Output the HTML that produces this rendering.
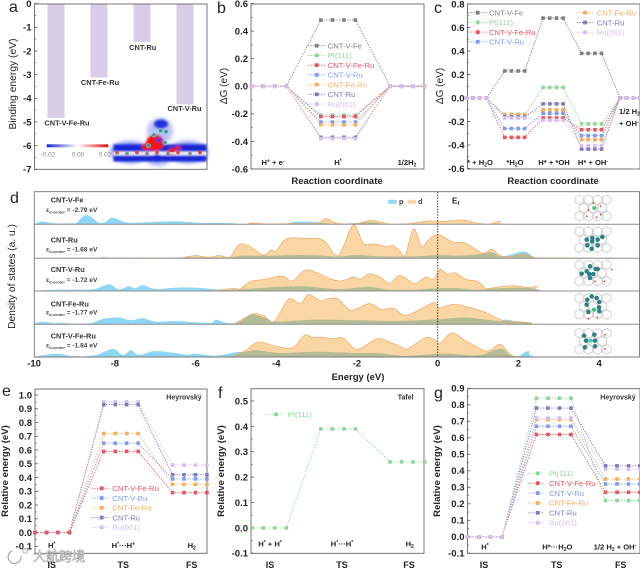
<!DOCTYPE html>
<html lang="en">
<head>
<meta charset="utf-8">
<title>Catalyst energy charts</title>
<style>
html,body{margin:0;padding:0;background:#fff;width:640px;height:568px;overflow:hidden}
svg{display:block;filter:blur(.3px);font-family:"Liberation Sans","Noto Sans CJK SC",sans-serif}
.pl{font-size:16px;fill:#222}
.tick{font-size:9.5px;font-weight:bold;fill:#222}
.title{font-size:9.5px;font-weight:bold;fill:#222}
.ytitle{font-size:9.6px;fill:#222;font-weight:bold;stroke:none}
.lab{font-size:7.4px;font-weight:bold;fill:#333}
.axlab{font-size:7.6px;fill:#222;font-weight:bold}
.leg{font-size:7.7px}
.cat{font-size:9px;font-weight:bold;fill:#222}
.rown{font-size:7.4px;font-weight:bold;fill:#333}
.eps{font-size:6.6px;fill:#444;font-weight:bold}
.cb{font-size:6.4px;fill:#888}
</style>
</head>
<body>
<svg id="fig" xmlns="http://www.w3.org/2000/svg" width="640" height="568" viewBox="0 0 640 568">
  <defs id="svg-defs">
    <linearGradient id="cbg" x1="0" x2="1" y1="0" y2="0">
      <stop offset="0" stop-color="#1424c8"/><stop offset=".5" stop-color="#fff"/><stop offset="1" stop-color="#e01010"/>
    </linearGradient>
    <filter id="soft" x="-20%" y="-20%" width="140%" height="140%"><feGaussianBlur stdDeviation="1.1"/></filter>
    <filter id="softer" x="-40%" y="-40%" width="180%" height="180%"><feGaussianBlur stdDeviation="2.2"/></filter>
    <clipPath id="clip-d"><rect x="34.3" y="192" width="606" height="166"/></clipPath>
  </defs>
  <g id="layer-d"></g>
  <g id="layer-a"></g>
  <g id="layer-b"></g>
  <g id="layer-c"></g>
  <g id="layer-e"></g>
  <g id="layer-f"></g>
  <g id="layer-g"></g>

  <!-- panel letters -->
  <text class="pl" x="9" y="12">a</text>
  <text class="pl" x="217" y="13">b</text>
  <text class="pl" x="434" y="13">c</text>
  <text class="pl" x="10" y="203">d</text>
  <text class="pl" x="2" y="396">e</text>
  <text class="pl" x="218" y="398">f</text>
  <text class="pl" x="434" y="398">g</text>

  <!-- axis titles -->
  <text class="ytitle" transform="translate(16,84) rotate(-90)" text-anchor="middle" style="font-weight:normal;font-size:10.3px">Binding energy (eV)</text>
  <text class="ytitle" transform="translate(227,86) rotate(-90)" text-anchor="middle" style="font-weight:normal;font-size:10px">ΔG (eV)</text>
  <text class="ytitle" transform="translate(443,86) rotate(-90)" text-anchor="middle" style="font-weight:normal;font-size:10px">ΔG (eV)</text>
  <text class="title" x="337" y="184" text-anchor="middle">Reaction coordinate</text>
  <text class="title" x="553" y="184" text-anchor="middle">Reaction coordinate</text>
  <text class="ytitle" transform="translate(15,276.5) rotate(-90)" text-anchor="middle" style="font-weight:normal;font-size:10.2px">Density of states (a. u.)</text>
  <text class="title" x="358" y="380" text-anchor="middle">Energy (eV)</text>
  <text class="ytitle" transform="translate(8,471) rotate(-90)" text-anchor="middle">Relative energy (eV)</text>
  <text class="ytitle" transform="translate(224,471) rotate(-90)" text-anchor="middle">Relative energy (eV)</text>
  <text class="ytitle" transform="translate(440,471) rotate(-90)" text-anchor="middle">Relative energy (eV)</text>

  <!-- panel a annotations -->
  <text class="lab" x="67" y="125.5" text-anchor="middle">CNT-V-Fe-Ru</text>
  <text class="lab" x="100" y="85" text-anchor="middle">CNT-Fe-Ru</text>
  <text class="lab" x="142.7" y="50" text-anchor="middle">CNT-Ru</text>
  <text class="lab" x="184.5" y="111" text-anchor="middle">CNT-V-Ru</text>
  <rect x="46.7" y="144.3" width="61.6" height="3" fill="url(#cbg)"/>
  <text class="cb" x="48" y="156.5" text-anchor="middle">-0.02</text>
  <text class="cb" x="78" y="156.5" text-anchor="middle">0.00</text>
  <text class="cb" x="105" y="156.5" text-anchor="middle">0.02</text>

  <!-- panel b annotations -->
  <text class="axlab" x="273" y="165" text-anchor="middle">H<tspan dy="-2.5" font-size="5">+</tspan><tspan dy="2.5"> + e</tspan><tspan dy="-2.5" font-size="5">-</tspan></text>
  <text class="axlab" x="338" y="165" text-anchor="middle">H<tspan dy="-2.5" font-size="5">*</tspan></text>
  <text class="axlab" x="407" y="165" text-anchor="middle">1/2H<tspan dy="1.5" font-size="5">2</tspan></text>

  <!-- panel c annotations -->
  <text class="axlab" x="480" y="165" text-anchor="middle">* + H<tspan dy="1.5" font-size="5">2</tspan><tspan dy="-1.5">O</tspan></text>
  <text class="axlab" x="515" y="165" text-anchor="middle">*H<tspan dy="1.5" font-size="5">2</tspan><tspan dy="-1.5">O</tspan></text>
  <text class="axlab" x="554" y="165" text-anchor="middle">H* + *OH</text>
  <text class="axlab" x="593" y="165" text-anchor="middle">H* + OH<tspan dy="-2.5" font-size="5">-</tspan></text>
  <text class="axlab" x="619" y="114">1/2 H<tspan dy="1.5" font-size="5">2</tspan></text>
  <text class="axlab" x="619" y="126">+ OH<tspan dy="-2.5" font-size="5">-</tspan></text>

  <!-- panel d annotations -->
  <text class="rown" x="50.7" y="202.5">CNT-V-Fe</text>
  <text class="eps" x="46" y="212">ε<tspan font-size="4" dy="1.5">d-center</tspan><tspan dy="-1.5"> = -2.79 eV</tspan></text>
  <text class="rown" x="50.7" y="242.5">CNT-Ru</text>
  <text class="eps" x="46" y="251.5">ε<tspan font-size="4" dy="1.5">d-center</tspan><tspan dy="-1.5"> = -1.68 eV</tspan></text>
  <text class="rown" x="50.7" y="272">CNT-V-Ru</text>
  <text class="eps" x="46" y="282">ε<tspan font-size="4" dy="1.5">d-center</tspan><tspan dy="-1.5"> = -1.72  eV</tspan></text>
  <text class="rown" x="50.7" y="306.5">CNT-Fe-Ru</text>
  <text class="eps" x="46" y="314.5">ε<tspan font-size="4" dy="1.5">d-center</tspan><tspan dy="-1.5"> = -1.77  eV</tspan></text>
  <text class="rown" x="50.7" y="338.5">CNT-V-Fe-Ru</text>
  <text class="eps" x="46" y="347.5">ε<tspan font-size="4" dy="1.5">d-center</tspan><tspan dy="-1.5"> = -1.84  eV</tspan></text>
  <rect x="388.3" y="199.8" width="8.4" height="4" fill="#8ed6f5"/>
  <text x="399" y="204" font-size="7.5" fill="#444" font-weight="bold">p</text>
  <rect x="407.7" y="199.8" width="8.4" height="4" fill="#fbd6a5"/>
  <text x="418" y="204" font-size="7.5" fill="#444" font-weight="bold">d</text>
  <text x="452" y="203.5" font-size="8" fill="#222" font-weight="bold">E<tspan font-size="5.5" dy="1.5">f</tspan></text>
  <line x1="437.7" y1="192" x2="437.7" y2="357" stroke="#222" stroke-width=".9" stroke-dasharray="1.4 1.4"/>

  <!-- panel e annotations -->
  <text class="lab" x="201.7" y="399.5" text-anchor="end" style="font-size:7px">Heyrovský</text>
  <text class="axlab" x="51.7" y="548" text-anchor="middle">H<tspan dy="-2.5" font-size="5">*</tspan></text>
  <text class="axlab" x="123.3" y="548" text-anchor="middle">H<tspan dy="-2.5" font-size="5">*</tspan><tspan dy="2.5">···H</tspan><tspan dy="-2.5" font-size="5">+</tspan></text>
  <text class="axlab" x="191.7" y="548" text-anchor="middle">H<tspan dy="1.5" font-size="5">2</tspan></text>
  <text class="cat" x="51.7" y="568" text-anchor="middle">IS</text>
  <text class="cat" x="123.3" y="568" text-anchor="middle">TS</text>
  <text class="cat" x="191.7" y="568" text-anchor="middle">FS</text>

  <!-- panel f annotations -->
  <text class="lab" x="405.7" y="399.5" text-anchor="middle" style="font-size:7px">Tafel</text>
  <text class="axlab" x="270" y="546.5" text-anchor="middle">H<tspan dy="-2.5" font-size="5">*</tspan><tspan dy="2.5"> + H</tspan><tspan dy="-2.5" font-size="5">*</tspan></text>
  <text class="axlab" x="342" y="546.5" text-anchor="middle">H<tspan dy="-2.5" font-size="5">*</tspan><tspan dy="2.5">···H</tspan><tspan dy="-2.5" font-size="5">*</tspan></text>
  <text class="axlab" x="409.7" y="546.5" text-anchor="middle">H<tspan dy="1.5" font-size="5">2</tspan></text>
  <text class="cat" x="270" y="568" text-anchor="middle">IS</text>
  <text class="cat" x="342" y="568" text-anchor="middle">TS</text>
  <text class="cat" x="409" y="568" text-anchor="middle">FS</text>

  <!-- panel g annotations -->
  <text class="lab" x="635.7" y="399.5" text-anchor="end" style="font-size:7px">Heyrovský</text>
  <text class="axlab" x="485" y="549.5" text-anchor="middle">H<tspan dy="-2.5" font-size="5">*</tspan></text>
  <text class="axlab" x="557.3" y="549.5" text-anchor="middle">H*···H<tspan dy="1.5" font-size="5">2</tspan><tspan dy="-1.5">O</tspan></text>
  <text class="axlab" x="615" y="549.5" text-anchor="middle">1/2 H<tspan dy="1.5" font-size="5">2</tspan><tspan dy="-1.5"> + OH</tspan><tspan dy="-2.5" font-size="5">-</tspan></text>
  <text class="cat" x="484" y="568" text-anchor="middle">IS</text>
  <text class="cat" x="556.7" y="568" text-anchor="middle">TS</text>
  <text class="cat" x="620.7" y="568" text-anchor="middle">FS</text>

  <!-- watermark -->
  <g>
    <circle cx="15" cy="556" r="6.5" fill="none" stroke="#fff" stroke-width="3"/>
    <path d="M12 551 A6.5 6.5 0 1 0 21 556" fill="none" stroke="#999" stroke-width="1"/>
    <circle cx="25" cy="551" r="2.2" fill="#fff" stroke="#aaa" stroke-width=".9"/>
    <text x="33" y="561" font-size="13" fill="#fff" stroke="#999" stroke-width=".55" font-family="'Liberation Sans','Noto Sans CJK SC',sans-serif">大航跨境</text>
  </g>
</svg>

<script>
// ---------- Panel a data ----------
const aCategories = ['CNT-V-Fe-Ru', 'CNT-Fe-Ru', 'CNT-Ru', 'CNT-V-Ru'];
const aValues = [-4.83, -3.12, -1.62, -4.25];
const aTickLabels = ['0', '-1', '-2', '-3', '-4', '-5', '-6', '-7'];

// ---------- Panel b data (levels: H+ + e-, H*, 1/2 H2) ----------
const bNames = ['CNT-V-Fe', 'Pt(111)', 'CNT-V-Fe-Ru', 'CNT-V-Ru', 'CNT-Fe-Ru', 'CNT-Ru', 'Ru(001)'];
const bVFe = [0, 0.48, 0];
const bPt = [0, -0.21, 0];
const bVFeRu = [0, -0.22, 0];
const bVRu = [0, -0.26, 0];
const bFeRu = [0, -0.28, 0];
const bRu = [0, -0.37, 0];
const bRu001 = [0, -0.38, 0];
const bTickLabels = ['0.6', '0.4', '0.2', '0.0', '-0.2', '-0.4', '-0.6'];

// ---------- Panel c data ----------
const cNames = ['CNT-V-Fe', 'Pt(111)', 'CNT-V-Fe-Ru', 'CNT-V-Ru', 'CNT-Fe-Ru', 'CNT-Ru', 'Ru(001)'];
const cVFe = [0, 0.23, 0.68, 0.38, 0];
const cPt = [0, -0.14, 0.09, -0.22, 0];
const cVFeRu = [0, -0.335, -0.17, -0.27, 0];
const cVRu = [0, -0.26, -0.13, -0.32, 0];
const cFeRu = [0, -0.14, -0.10, -0.355, 0];
const cRu = [0, -0.16, -0.05, -0.435, 0];
const cRu001 = [0, -0.17, -0.19, -0.405, 0];
const cTickLabels = ['0.8', '0.6', '0.4', '0.2', '0.0', '-0.2', '-0.4', '-0.6'];

// ---------- Panel e data ----------
const eNames = ['CNT-V-Fe-Ru', 'CNT-V-Ru', 'CNT-Fe-Ru', 'CNT-Ru', 'Ru(001)'];
const eVFeRu = [0, 0.59, 0.29];
const eVRu = [0, 0.65, 0.39];
const eFeRu = [0, 0.72, 0.35];
const eRu = [0, 0.93, 0.42];
const eRu001 = [0, 0.95, 0.49];
const eTickLabels = ['1.0', '0.9', '0.8', '0.7', '0.6', '0.5', '0.4', '0.3', '0.2', '0.1', '0.0', '-0.1'];

// ---------- Panel f data ----------
const fNames = ['Pt(111)'];
const fPt = [0, 0.39, 0.26];
const fTickLabels = ['0.5', '0.4', '0.3', '0.2', '0.1', '0.0', '-0.1'];

// ---------- Panel g data ----------
const gNames = ['Pt(111)', 'CNT-V-Fe-Ru', 'CNT-V-Ru', 'CNT-Fe-Ru', 'CNT-Ru', 'Ru(001)'];
const gPt = [0, 0.84, 0.22];
const gVFeRu = [0, 0.62, 0.27];
const gVRu = [0, 0.67, 0.32];
const gFeRu = [0, 0.71, 0.35];
const gRu = [0, 0.78, 0.43];
const gRu001 = [0, 0.72, 0.41];
const gTickLabels = ['0.9', '0.8', '0.7', '0.6', '0.5', '0.4', '0.3', '0.2', '0.1', '0.0', '-0.1'];

// ---------- Panel d data (density of states, arbitrary units) ----------
const dTickLabels = ['-10', '-8', '-6', '-4', '-2', '0', '2', '4'];
const vfePE = [-10, -9.8, -9.5, -9, -8.95, -8.7, -8.4, -8.25, -8.05, -7.7, -7.2, -6.5, -6, -5.7, -5.2, -4.9, -4.3, -3.8, -3.5, -3, -2.5, -1.65, -1.2, 0];
const vfeP = [1, 8, 3, 3, 4, 28, 5, 6, 20, 5, 6, 9, 5, 4, 4, 1, 0, 1, 8, 6, 1, 6, 0, 0];
const vfeDE = [-10, -5, -4.7, -4.5, -4.2, -3.5, -3, -2.75, -2.5, -2, -1.65, -1.2, -0.8, -0.2, 0.1, 0.6, 1, 1.3, 1.55, 1.8, 5];
const vfeD = [0, 0, 2, 4, 1, 2, 3, 17, 3, 2, 12, 1, 1, 10, 8, 13, 3, 1, 9, 0, 0];
const ruPE = [-10, -8.5, -8.3, -8, -7, -6, -5.2, -4.85, -4.5, -4, -3.5, -3, -2.5, -2, -1.5, -1, -0.5, 0, 0.5, 1, 1.34, 1.6, 2.12, 2.4, 2.7, 5];
const ruP = [0, 0, 4, 1, 2, 3, 3, 8, 8, 8, 10, 9, 5, 10, 6, 5, 6, 10, 8, 12, 18, 5, 20, 4, 0, 0];
const ruDE = [-10, -7, -6.4, -6, -5.7, -5.45, -5.35, -5.15, -4.94, -4.7, -4.32, -4.12, -4, -3.75, -3.3, -2.92, -2.75, -2.46, -2.09, -1.84, -1.55, -1.26, -1.1, -0.93, -0.8, -0.6, -0.4, -0.27, -0.1, 0.06, 0.39, 0.64, 0.97, 1.13, 1.34, 1.55, 1.8, 2.12, 2.37, 2.6, 5];
const ruD = [0, 1, 1, 8, 3, 8, 7, 3, 40, 38, 10, 25, 22, 58, 60, 58, 45, 8, 100, 45, 43, 35, 38, 20, 10, 88, 35, 50, 67, 70, 48, 48, 25, 15, 27, 8, 5, 13, 3, 1, 0];
const vruPE = [-10, -9.5, -9, -8.5, -8.15, -7.9, -7.65, -7.5, -7.3, -7, -6.5, -6, -5.5, -5.2, -4.5, -4, -3.3, -2.5, -1.7, -1.2, -0.6, 0, 0.5, 1, 1.5, 2, 2.5, 2.65, 5];
const vruP = [1, 4, 4, 6, 20, 5, 14, 8, 17, 6, 10, 10, 5, 3, 8, 12, 14, 6, 12, 4, 4, 8, 8, 4, 8, 10, 6, 0, 0];
const vruDE = [-10, -6, -5.3, -5, -4.9, -4.65, -4.3, -3.86, -3.6, -3.3, -3, -2.7, -2.4, -2.1, -1.9, -1.7, -1.4, -1.2, -0.95, -0.7, -0.55, -0.3, -0.1, 0.05, 0.25, 0.42, 0.7, 1, 1.2, 1.5, 1.9, 2.3, 2.45, 2.65, 5];
const vruD = [0, 0, 5, 8, 5, 28, 35, 45, 30, 62, 55, 38, 30, 42, 35, 52, 40, 22, 47, 30, 22, 42, 35, 65, 50, 55, 35, 28, 8, 12, 16, 10, 14, 0, 0];
const feruPE = [-10, -9.8, -9.5, -9.4, -9, -8.6, -8.3, -7.9, -7.6, -7.3, -7, -6.5, -6, -5.6, -5.5, -5.2, -4.9, -4.6, -4.2, -4, -3, -2, -1, 0, 0.7, 1.5, 1.7, 2, 2.3, 2.6, 5];
const feruP = [2, 8, 3, 5, 2, 3, 16, 20, 12, 18, 8, 10, 6, 5, 14, 4, 8, 30, 15, 8, 14, 12, 10, 15, 20, 10, 14, 8, 6, 0, 0];
const feruDE = [-10, -5.3, -5, -4.8, -4.55, -4.3, -4.05, -3.7, -3.4, -3.2, -2.9, -2.7, -2.45, -2.15, -1.7, -1.4, -1.1, -0.85, -0.6, -0.1, 0.05, 0.4, 0.8, 1.2, 1.6, 2, 2.3, 2.6, 5];
const feruD = [0, 0, 5, 18, 32, 25, 8, 75, 62, 90, 70, 78, 75, 42, 62, 45, 48, 28, 35, 65, 50, 60, 50, 35, 12, 8, 4, 0, 0];
const vferuPE = [-10, -9.45, -9, -8.5, -8.05, -7.8, -7.6, -7.4, -7, -6.5, -6.2, -6, -5.5, -5, -4.8, -4.5, -3.9, -3, -2, -1.5, -0.8, -0.2, 0.3, 1, 1.55, 1.8, 2, 2.25, 2.55, 5];
const vferuP = [1, 10, 2, 5, 24, 6, 20, 6, 18, 12, 7, 10, 4, 14, 15, 20, 12, 16, 12, 12, 3, 8, 10, 5, 25, 5, 2, 18, 0, 0];
const vferuDE = [-10, -5.5, -5, -4.75, -4.45, -4, -3.6, -3.3, -3.1, -2.9, -2.6, -2.35, -2.1, -1.9, -1.5, -1.2, -0.9, -0.75, -0.3, -0.05, 0.05, 0.35, 0.7, 1.1, 1.3, 1.55, 1.8, 2, 2.4, 5];
const vferuD = [0, 0, 8, 20, 45, 32, 28, 65, 58, 60, 55, 57, 28, 26, 55, 45, 30, 24, 58, 50, 40, 72, 48, 22, 20, 38, 8, 1, 0, 0];

// ---------- Styles and layout ----------
const SVGNS = 'http://www.w3.org/2000/svg';
const colorOf = {
  'CNT-V-Fe': '#808080', 'Pt(111)': '#8ed69a', 'CNT-V-Fe-Ru': '#e8555f', 'CNT-V-Ru': '#7f9af0',
  'CNT-Fe-Ru': '#f5ad5f', 'CNT-Ru': '#7f7db8', 'Ru(001)': '#d6bdf3'
};

function add(tag, attrs, parent) {
  const n = document.createElementNS(SVGNS, tag);
  for (const k in attrs) n.setAttribute(k, attrs[k]);
  parent.appendChild(n);
  return n;
}
function linear(d0, d1, r0, r1) {
  return v => r0 + (v - d0) * (r1 - r0) / (d1 - d0);
}
function slug(s) {
  return s.toLowerCase().replace(/[^a-z0-9]+/g, '-').replace(/-$/, '');
}

function drawFrame(layer, box, yOf, tickLabels, minorStep) {
  const fr = add('rect', { x: box.left, y: box.top, width: box.right - box.left, height: box.bottom - box.top, fill: 'none', stroke: '#666', 'stroke-width': .9 }, layer);
  
  
  tickLabels.forEach(lbl => {
    const v = Number(lbl);
    const py = yOf(v);
    const t = add('line', { x1: box.left, x2: box.left + 3, y1: py, y2: py, stroke: '#555', 'stroke-width': .8 }, layer);
    
    
    const ty = add('text', { x: box.left - 3, y: py + 3.4, class: 'tick', 'text-anchor': 'end' }, layer);
    ty.textContent = lbl;
    
    
    const mv = v - minorStep;
    if (yOf(mv) < box.bottom) {
      const m = add('line', { x1: box.left, x2: box.left + 1.6, y1: yOf(mv), y2: yOf(mv), stroke: '#555', 'stroke-width': .7 }, layer);
      
      
    }
  });
}

function drawEnergyChart(layer, cfg, seriesNames, seriesValues, legendSpec) {
  const yOf = linear(cfg.domain[0], cfg.domain[1], cfg.range[0], cfg.range[1]);
  const xOf = (level, j) => cfg.px0 + (level * cfg.span + j) * cfg.step;
  drawFrame(layer, cfg.box, yOf, cfg.ticks, cfg.minor);
  const POINTS = [0, 1, 2, 3];
  seriesNames.forEach((name, si) => {
    const vals = seriesValues[si];
    const color = colorOf[name];
    const pts = [];
    vals.forEach((v, lv) => POINTS.forEach(j => pts.push([xOf(lv, j), yOf(v)])));
    const line = add('polyline', { points: pts.map(p => p.join(',')).join(' '), fill: 'none', stroke: color, 'stroke-width': .9, 'stroke-dasharray': '1.3 1.3' }, layer);
    
    
    pts.forEach(p => {
      const mk = add('rect', { x: p[0] - 1.8, y: p[1] - 1.8, width: 3.6, height: 3.6, fill: color }, layer);
      
      
    });
  });
  legendSpec.forEach(col => {
    col.names.forEach((name, i) => {
      const py = col.y0 + i * col.dy;
      const color = colorOf[name];
      const ll = add('line', { x1: col.x0, x2: col.x1, y1: py, y2: py, stroke: color, 'stroke-width': .9, 'stroke-dasharray': '1.3 1.3' }, layer);
      
      
      const lm = add('rect', { x: col.xm - 1.9, y: py - 1.9, width: 3.8, height: 3.8, fill: color }, layer);
      
      
      const lt = add('text', { x: col.xt, y: py + 2.8, class: 'leg', fill: color }, layer);
      lt.textContent = name;
      
      
    });
  });
}

// ---------- Panel a ----------
(function () {
  const layer = document.getElementById('layer-a');
  const box = { left: 34.5, right: 207, top: 4, bottom: 169.3 };
  const yOf = linear(0, -7, 3.6, 169.3);
  const bandX = linear(0, 3, 56, 185);
  aValues.forEach((v, i) => {
    const b = add('rect', { x: bandX(i) - 8.5, y: box.top, width: 17, height: yOf(v) - box.top, fill: '#d9cdea' }, layer);
    
    
  });
  const map = add('g', {}, layer);
  
  
  const halo = add('g', { filter: 'url(#softer)' }, map);
  [[160, 131, 13, 13, '#b9c0f5'], [158, 160, 11, 6, '#aeb6f3'], [130, 152, 20, 11, '#8e99ef'], [188, 152, 20, 11, '#8e99ef']].forEach(c => {
    const h = add('ellipse', { cx: c[0], cy: c[1], rx: c[2], ry: c[3], fill: c[4] }, halo);
    
    
  });
  const blur = add('g', { filter: 'url(#soft)' }, map);
  [[113.5, 144.5, 93, 7.5], [113.5, 155, 93, 6.5]].forEach(r => {
    const band = add('rect', { x: r[0], y: r[1], width: r[2], height: r[3], fill: '#1526d6' }, blur);
    
    
  });
  const gap = add('rect', { x: 113.5, y: 152, width: 93, height: 3, fill: '#fff' }, blur);
  
  
  [[161, 124, 7, 4.5, '#2030dc'], [157, 158, 5, 4, '#1526d6'], [155, 143, 9, 8, '#ee1515'], [146, 147, 4, 3.5, '#ee1515'], [172, 151, 4, 3, '#ee2222'], [178, 148, 3, 2, '#ee2222'], [159, 140, 2.5, 2.5, '#2233dd']].forEach(c => {
    const blob = add('ellipse', { cx: c[0], cy: c[1], rx: c[2], ry: c[3], fill: c[4] }, blur);
    
    
  });
  const chain = add('path', { d: 'M114 153 L206 153', stroke: '#e8e8e8', 'stroke-width': 1.4, fill: 'none' }, map);
  
  
  [117, 127, 137, 147, 157, 168, 178, 190, 200].forEach((cx, i) => {
    const c = add('circle', { cx: cx, cy: 152.5 + (i % 2), r: 1.9, fill: i % 2 ? '#8a8a8a' : '#d84a55' }, map);
    
    
  });
  [[154, 135], [160.7, 130.7], [166, 131.7], [165, 142.7], [148.3, 145.7]].forEach(p => {
    const c = add('circle', { cx: p[0], cy: p[1], r: 2.2, fill: '#3d9a98', stroke: '#cfe', 'stroke-width': .4 }, map);
    
    
  });
  drawFrame(layer, box, yOf, aTickLabels, 0.5);
})();

// ---------- Panels b, c, e, f, g ----------
drawEnergyChart(document.getElementById('layer-b'),
  { box: { left: 251, right: 424, top: 4, bottom: 169 }, domain: [-0.6, 0.6], range: [169, 3.5], px0: 251.7, step: 11.53, span: 6, ticks: bTickLabels, minor: 0.1 },
  bNames, [bVFe, bPt, bVFeRu, bVRu, bFeRu, bRu, bRu001],
  [{ names: bNames, x0: 308, x1: 325, xm: 316.7, xt: 327.7, y0: 45.7, dy: 9.72 }]);

drawEnergyChart(document.getElementById('layer-c'),
  { box: { left: 467.5, right: 640, top: 4, bottom: 169 }, domain: [-0.6, 0.8], range: [168.5, 4], px0: 466.3, step: 6.68, span: 5.75, ticks: cTickLabels, minor: 0.1 },
  cNames, [cVFe, cPt, cVFeRu, cVRu, cFeRu, cRu, cRu001],
  [{ names: cNames.slice(0, 4), x0: 468, x1: 487, xm: 477.7, xt: 489, y0: 12.7, dy: 9.7 },
   { names: cNames.slice(4), x0: 576.7, x1: 593, xm: 585, xt: 596.7, y0: 12.7, dy: 9.8 }]);

drawEnergyChart(document.getElementById('layer-e'),
  { box: { left: 35, right: 207, top: 389, bottom: 553.3 }, domain: [-0.1, 1.0], range: [546.3, 395], px0: 35, step: 11.46, span: 6, ticks: eTickLabels, minor: 0.05 },
  eNames.slice().reverse(), [eRu001, eRu, eFeRu, eVRu, eVFeRu],
  [{ names: eNames, x0: 91.7, x1: 110, xm: 101.7, xt: 112.3, y0: 488.3, dy: 9.75 }]);

drawEnergyChart(document.getElementById('layer-f'),
  { box: { left: 251, right: 424, top: 388.7, bottom: 553.3 }, domain: [-0.1, 0.5], range: [553.3, 401], px0: 251.7, step: 11.53, span: 6, ticks: fTickLabels, minor: 0.05 },
  fNames, [fPt],
  [{ names: fNames, x0: 266.7, x1: 283, xm: 276, xt: 287.7, y0: 414.3, dy: 10 }]);

drawEnergyChart(document.getElementById('layer-g'),
  { box: { left: 467.5, right: 640, top: 388.7, bottom: 553.3 }, domain: [-0.1, 0.9], range: [553.3, 388.3], px0: 467.5, step: 11.5, span: 6, ticks: gTickLabels, minor: 0.05 },
  gNames, [gPt, gVFeRu, gVRu, gFeRu, gRu, gRu001],
  [{ names: gNames, x0: 528.3, x1: 544, xm: 537.7, xt: 549, y0: 473.3, dy: 9.88 }]);

// ---------- Panel d ----------
(function () {
  const layer = document.getElementById('layer-d');
  const defs = document.getElementById('svg-defs');
  const xOf = linear(0, 5, 437.7, 639.5);
  const box = { left: 34.3, right: 639.5, top: 191.7, bottom: 357 };
  const rows = [
    { name: 'cnt-v-fe', base: 224.3, pe: vfePE, p: vfeP, de: vfeDE, d: vfeD },
    { name: 'cnt-ru', base: 258.3, pe: ruPE, p: ruP, de: ruDE, d: ruD },
    { name: 'cnt-v-ru', base: 291, pe: vruPE, p: vruP, de: vruDE, d: vruD },
    { name: 'cnt-fe-ru', base: 324.3, pe: feruPE, p: feruP, de: feruDE, d: feruD },
    { name: 'cnt-v-fe-ru', base: 357, pe: vferuPE, p: vferuP, de: vferuDE, d: vferuD }
  ];
  function curve(es, vs, base) {
    const px = es.map(xOf);
    const py = vs.map(v => base - v / 3);
    let s = 'M' + px[0].toFixed(1) + ' ' + py[0].toFixed(1);
    for (let i = 0; i < px.length - 1; i++) {
      const a = Math.max(i - 1, 0), b = Math.min(i + 2, px.length - 1);
      const c1x = px[i] + (px[i + 1] - px[a]) / 6, c1y = Math.min(py[i] + (py[i + 1] - py[a]) / 6, base);
      const c2x = px[i + 1] - (px[b] - px[i]) / 6, c2y = Math.min(py[i + 1] - (py[b] - py[i]) / 6, base);
      s += 'C' + c1x.toFixed(1) + ' ' + c1y.toFixed(1) + ' ' + c2x.toFixed(1) + ' ' + c2y.toFixed(1) + ' ' + px[i + 1].toFixed(1) + ' ' + py[i + 1].toFixed(1);
    }
    return s;
  }
  const areas = add('g', { 'clip-path': 'url(#clip-d)' }, layer);
  
  
  rows.forEach(r => {
    const close = base => 'L' + xOf(5).toFixed(1) + ' ' + base + 'L' + xOf(-10).toFixed(1) + ' ' + base + 'Z';
    const pPath = curve(r.pe, r.p, r.base) + close(r.base);
    const dPath = curve(r.de, r.d, r.base) + close(r.base);
    const cp = add('clipPath', { id: 'clip-' + r.name }, defs);
    add('path', { d: dPath }, cp);
    const pa = add('path', { d: pPath, fill: '#8ed6f5' }, areas);
    
    
    const da = add('path', { d: dPath, fill: '#fbd6a5' }, areas);
    
    
    const ov = add('path', { d: pPath, fill: '#b4bc96', 'clip-path': 'url(#clip-' + r.name + ')' }, areas);
    
    
    const dl = add('path', { d: curve(r.de, r.d, r.base), fill: 'none', stroke: '#f0a965', 'stroke-width': .7 }, areas);
    
    
    const div = add('line', { x1: box.left, x2: box.right, y1: r.base, y2: r.base, stroke: '#8f8f8f', 'stroke-width': 1 }, layer);
    
    
  });
  const fr = add('rect', { x: box.left, y: box.top, width: box.right - box.left, height: box.bottom - box.top, fill: 'none', stroke: '#777', 'stroke-width': .9 }, layer);
  
  
  dTickLabels.forEach(lbl => {
    const t = add('text', { x: xOf(Number(lbl)), y: 366.5, class: 'tick', 'text-anchor': 'middle' }, layer);
    t.textContent = lbl;
    
    
  });

  // structure insets (decorative)
  const insets = [
    { cy: 208, atoms: [[103, 60, '#2ecc71']], red: [[100, 45], [122, 55], [85, 65], [122, 80], [80, 85], [110, 88]] },
    { cy: 239.7, atoms: [[80, 155], [97, 150], [113, 155], [127, 147], [82, 172], [95, 182], [113, 172], [97, 160]], red: [] },
    { cy: 273, atoms: [[65, 257], [80, 250], [90, 235], [107, 243], [88, 258], [100, 258], [90, 270], [113, 243]], red: [[105, 280], [133, 280], [155, 245]] },
    { cy: 306.3, atoms: [[80, 350], [82, 335], [95, 325], [110, 330], [118, 342], [117, 358], [102, 365, '#2ecc71'], [85, 372], [118, 370]], red: [[112, 388], [85, 392]] },
    { cy: 341.3, atoms: [[72, 443], [103, 440], [75, 478], [105, 475], [78, 458], [92, 458, '#3fd0b0'], [105, 458]], red: [[135, 440], [135, 483]] }
  ];
  insets.forEach(ins => {
    const g = add('g', {}, layer);
    
    
    for (let j = -1; j <= 1; j++) {
      const count = j === 0 ? 3 : 4;
      for (let i = 0; i < count; i++) {
        const cx = 593 + (i - (count - 1) / 2) * 9.2;
        const cy = ins.cy + j * 8.2;
        const ring = add('polygon', { points: [0, 1, 2, 3, 4, 5].map(k => (cx + 4.8 * Math.sin(k * Math.PI / 3)).toFixed(1) + ',' + (cy + 4.8 * Math.cos(k * Math.PI / 3)).toFixed(1)).join(' '), fill: '#fff', stroke: '#d0d0d0', 'stroke-width': .9 }, g);
        
        
      }
    }
    ins.red.forEach(a => {
      const c = add('circle', { cx: 560 + a[0] / 3, cy: 188 + a[1] / 3, r: .9, fill: '#d9413f' }, g);
      
      
    });
    ins.atoms.forEach(a => {
      const c = add('circle', { cx: 560 + a[0] / 3, cy: 188 + a[1] / 3, r: a[2] ? 2 : 2.3, fill: a[2] || '#2f8088' }, g);
      
      
    });
  });
  const svg = document.getElementById('fig');
  svg.insertBefore(layer, svg.querySelector('#layer-a'));
})();
</script>
</body>
</html>
